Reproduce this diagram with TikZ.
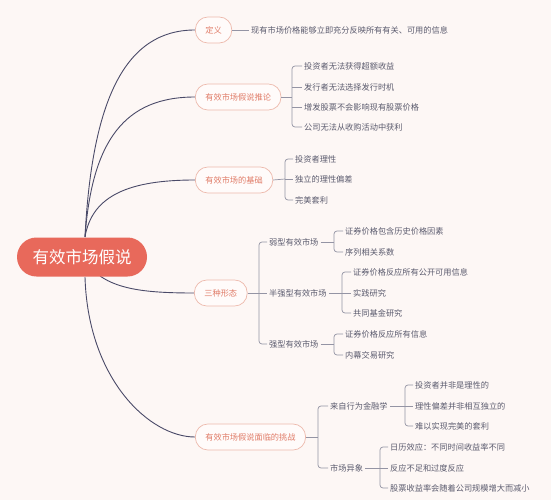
\documentclass[tikz,border=0pt]{standalone}
\usepackage{fontspec}
\setmainfont{Noto Sans CJK SC}
\definecolor{bgc}{HTML}{FDF7F5}
\definecolor{rootc}{HTML}{E8695B}
\definecolor{curvec}{HTML}{4A4A68}
\definecolor{brc}{HTML}{9494A4}
\definecolor{bordc}{HTML}{EDB9AC}
\definecolor{boxc}{HTML}{FFFBFA}
\definecolor{salmon}{HTML}{E07B67}
\definecolor{leafc}{HTML}{5B5B6E}
\begin{document}
\begin{tikzpicture}[x=1pt,y=-1pt,
  curve/.style={draw=curvec, line width=0.9pt},
  br/.style={draw=brc, line width=0.7pt, rounded corners=3pt},
  branch/.style={draw=bordc, fill=boxc, text=salmon, rounded corners=12.5pt, minimum height=26pt, inner xsep=10pt, line width=0.7pt, anchor=west, font=\fontsize{8.2}{9}\selectfont},
  leaf/.style={text=leafc, inner xsep=2pt, inner ysep=1pt, anchor=west, font=\fontsize{8.2}{9}\selectfont},
  rootbox/.style={fill=rootc, text=white, rounded corners=19.5pt, minimum width=130pt, minimum height=39pt, inner sep=0pt, font=\fontsize{16.5}{18}\selectfont}]
\fill[bgc] (0,0) rectangle (551,500);
\useasboundingbox (0,0) rectangle (551,500);

% branch boxes
\node[branch] (def) at (195,30) {定义};
\node[branch] (inf) at (195,97) {有效市场假说推论};
\node[branch] (base) at (195,180) {有效市场的基础};
\node[branch] (three) at (194,293) {三种形态};
\node[branch] (chal) at (195,437) {有效市场假说面临的挑战};

% root anchors for curves
\coordinate (rt) at (85,237);
\coordinate (rb) at (85,277);
\coordinate (rb2) at (100,276);

\draw[curve] (rt) .. controls (92,100) and (125,30) .. (def.west);
\draw[curve] (rt) .. controls (92,140) and (125,97) .. (inf.west);
\draw[curve] (rt) .. controls (92,195) and (130,180) .. (base.west);
\draw[curve] (rb2) .. controls (120,290) and (150,293) .. (three.west);
\draw[curve] (rb) .. controls (88,380) and (150,437) .. (chal.west);

\node[rootbox] (root) at (82,257) {有效市场假说};

% definition
\node[leaf] (d1) at (249,30) {现有市场价格能够立即充分反映所有有关、可用的信息};
\draw[br] (def.east) -- (d1.west);

% inferences
\node[leaf] (i1) at (302,66) {投资者无法获得超额收益};
\node[leaf] (i2) at (302,87) {发行者无法选择发行时机};
\node[leaf] (i3) at (302,107) {增发股票不会影响现有股票价格};
\node[leaf] (i4) at (302,127) {公司无法从收购活动中获利};
\coordinate (ib) at (292,97);
\draw[br] (inf.east) -- (ib);
\draw[br] (i1.west) -| (ib) |- (i4.west);
\draw[br] (ib |- i2.west) -- (i2.west);
\draw[br] (ib |- i3.west) -- (i3.west);

% basis
\node[leaf] (b1) at (293,159) {投资者理性};
\node[leaf] (b2) at (293,179) {独立的理性偏差};
\node[leaf] (b3) at (293,200) {完美套利};
\coordinate (bb) at (285,179);
\draw[br] (base.east) -- (bb);
\draw[br] (b1.west) -| (bb) |- (b3.west);
\draw[br] (bb) -- (b2.west);

% three forms
\node[leaf] (w) at (267,242) {弱型有效市场};
\node[leaf] (s) at (267,293) {半强型有效市场};
\node[leaf] (k) at (267,344) {强型有效市场};
\coordinate (tb) at (259,293);
\draw[br] (three.east) -- (tb);
\draw[br] (w.west) -| (tb) |- (k.west);
\draw[br] (tb) -- (s.west);

\node[leaf] (w1) at (343,231) {证券价格包含历史价格因素};
\node[leaf] (w2) at (343,252) {序列相关系数};
\coordinate (wb) at (334,242);
\draw[br] (w.east) -- (wb);
\draw[br] (w1.west) -| (wb) |- (w2.west);

\node[leaf] (s1) at (351,272) {证券价格反应所有公开可用信息};
\node[leaf] (s2) at (351,293) {实践研究};
\node[leaf] (s3) at (351,313) {共同基金研究};
\coordinate (sb) at (342,293);
\draw[br] (s.east) -- (sb);
\draw[br] (s1.west) -| (sb) |- (s3.west);
\draw[br] (sb) -- (s2.west);

\node[leaf] (k1) at (343,334) {证券价格反应所有信息};
\node[leaf] (k2) at (343,355) {内幕交易研究};
\coordinate (kb) at (334,344);
\draw[br] (k.east) -- (kb);
\draw[br] (k1.west) -| (kb) |- (k2.west);

% challenges
\node[leaf] (c1) at (328,406) {来自行为金融学};
\node[leaf] (c2) at (328,468) {市场异象};
\coordinate (cb) at (318,437);
\draw[br] (chal.east) -- (cb);
\draw[br] (c1.west) -| (cb) |- (c2.west);

\node[leaf] (f1) at (413,385) {投资者并非是理性的};
\node[leaf] (f2) at (413,406) {理性偏差并非相互独立的};
\node[leaf] (f3) at (413,426) {难以实现完美的套利};
\coordinate (fb) at (405,406);
\draw[br] (c1.east) -- (fb);
\draw[br] (f1.west) -| (fb) |- (f3.west);
\draw[br] (fb) -- (f2.west);

\node[leaf] (m1) at (388,447) {日历效应：不同时间收益率不同};
\node[leaf] (m2) at (388,468) {反应不足和过度反应};
\node[leaf] (m3) at (388,488) {股票收益率会随着公司规模增大而减小};
\coordinate (mb) at (380,468);
\draw[br] (c2.east) -- (mb);
\draw[br] (m1.west) -| (mb) |- (m3.west);
\draw[br] (mb) -- (m2.west);
\end{tikzpicture}
\end{document}
